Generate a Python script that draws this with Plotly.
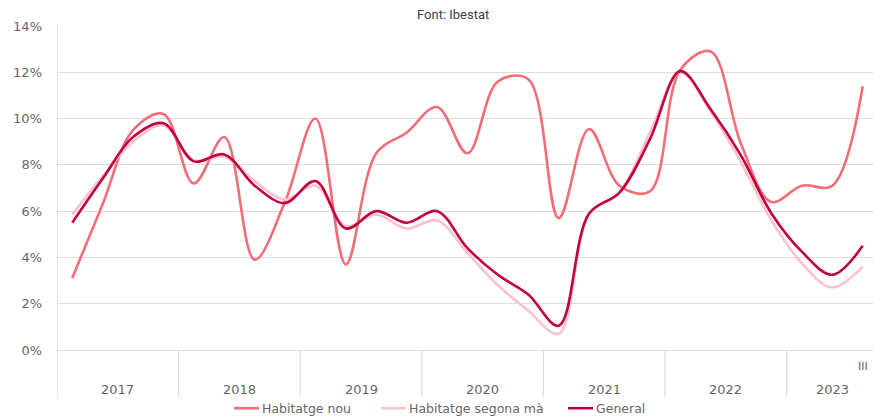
import plotly.graph_objects as go

quarters = list(range(27))
years = ["2017", "2018", "2019", "2020", "2021", "2022", "2023"]
year_centers = [1.5, 5.5, 9.5, 13.5, 17.5, 21.5, 25]
dividers = [3.5, 7.5, 11.5, 15.5, 19.5, 23.5]

nou = [3.1, 6.3, 9.5, 10.2, 7.2, 9.2, 3.9, 6.4, 10.0, 3.7, 8.5, 9.4, 10.5, 8.5,
       11.6, 11.7, 5.7, 9.55, 7.1, 6.85, 12.1, 12.9, 8.9, 6.4, 7.1, 7.1, 11.4]
segona = [5.85, 7.5, 9.0, 9.7, 8.2, 8.35, 7.3, 6.5, 7.1, 5.35, 5.85, 5.25, 5.6, 4.2,
          2.8, 1.7, 0.7, 5.85, 6.8, 9.4, 12.0, 10.3, 8.1, 5.6, 3.75, 2.7, 3.6]
general = [5.5, 7.4, 9.2, 9.8, 8.15, 8.45, 7.1, 6.35, 7.3, 5.25, 6.0, 5.5, 6.0, 4.4,
           3.25, 2.4, 1.05, 5.9, 6.8, 9.1, 12.05, 10.4, 8.4, 5.9, 4.25, 3.25, 4.5]

series = [
    ("Habitatge nou", nou, "#F26D78"),
    ("Habitatge segona mà", segona, "#F8C3CB"),
    ("General", general, "#C2003F"),
]

# plot-area geometry (pixels) used for legend placement
L, W, B, H = 57, 816, 350.3, 324
def px(x):
    return (x - L) / W
def py(y):
    return (B - y) / H

fig = go.Figure()
for name, vals, col in series:
    fig.add_trace(go.Scatter(
        x=quarters, y=vals, name=name, mode="lines", showlegend=False,
        line=dict(color=col, width=2.6, shape="spline", smoothing=1.0),
    ))

grid = "#DCDCDC"
shapes = [dict(type="line", xref="x", yref="paper", x0=-0.5, x1=-0.5, y0=py(397), y1=1,
               line=dict(color=grid, width=1.5))]
for d in dividers:
    shapes.append(dict(type="line", xref="x", yref="paper", x0=d, x1=d, y0=py(397), y1=0,
                       line=dict(color=grid, width=1.2)))

annotations = []
for y, c in zip(years, year_centers):
    annotations.append(dict(x=c, y=py(390), xref="x", yref="paper", text=y, showarrow=False,
                            font=dict(family="DejaVu Sans", size=13, color="#666666"),
                            xanchor="center", yanchor="middle"))
annotations.append(dict(x=26, y=py(367), xref="x", yref="paper", text="III", showarrow=False,
                        font=dict(family="DejaVu Sans", size=11, color="#666666"),
                        xanchor="center", yanchor="middle"))
annotations.append(dict(x=px(453), y=py(15), xref="paper", yref="paper",
                        text="Font: Ibestat", showarrow=False, yanchor="middle", xanchor="center",
                        font=dict(family="Roboto", size=13, color="#404040")))

# manual legend
leg_y = py(408.5)
leg_x = [234, 381, 568]
for (name, vals, col), x0 in zip(series, leg_x):
    shapes.append(dict(type="line", xref="paper", yref="paper", x0=px(x0), x1=px(x0 + 25),
                       y0=leg_y, y1=leg_y, line=dict(color=col, width=2.6)))
    annotations.append(dict(x=px(x0 + 26), y=leg_y, xref="paper", yref="paper", text=name,
                            showarrow=False, xanchor="left", yanchor="middle",
                            font=dict(family="DejaVu Sans", size=12.5, color="#666666")))

fig.update_layout(
    width=873, height=418,
    margin=dict(l=57, r=0, t=26, b=68, autoexpand=False),
    paper_bgcolor="white", plot_bgcolor="white",
    showlegend=False,
    xaxis=dict(range=[-0.5, 26.34], showgrid=False, showticklabels=False, zeroline=False,
               showline=False, ticks=""),
    yaxis=dict(range=[0, 14], tickvals=[0, 2, 4, 6, 8, 10, 12, 14],
               ticktext=["0%", "2%", "4%", "6%", "8%", "10%", "12%", "14%"],
               showgrid=True, gridcolor=grid, gridwidth=1, zeroline=True, zerolinecolor=grid,
               zerolinewidth=1.2, showline=False, ticks="", ticklabelstandoff=14,
               tickfont=dict(family="DejaVu Sans", size=13, color="#666666")),
    shapes=shapes, annotations=annotations,
)

fig.write_html("out.html", config={"displayModeBar": False},
               post_script="document.body.style.margin='0';document.body.style.overflow='hidden';")
